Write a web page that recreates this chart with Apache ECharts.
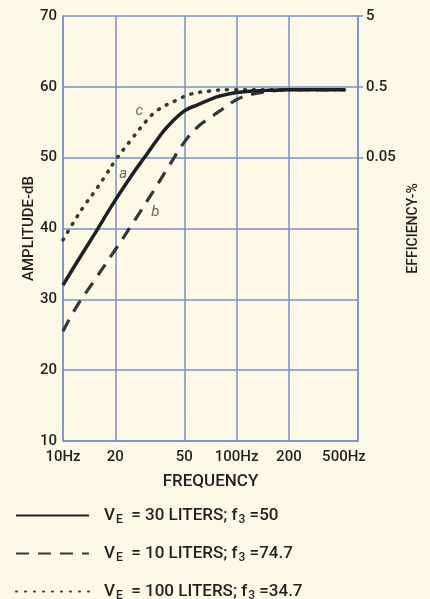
<!DOCTYPE html>
<html>
<head>
<meta charset="utf-8">
<script src="https://cdn.jsdelivr.net/npm/echarts@6/dist/echarts.min.js"></script>
<style>
  html, body { margin: 0; padding: 0; background: #fcfae6; }
  #chart { width: 430px; height: 599px; }
</style>
</head>
<body>
<div id="chart"></div>
<script>
// x 轴刻度 (Hz)
var freqTicks = [10, 20, 50, 100, 200, 500];
// 右侧效率刻度
var effTicks = [50, 60, 70];
var effLabels = ['0.05', '0.5', '5'];

// 曲线 a : VE = 30 liters
var solidFreq = [10, 12, 15, 20, 25, 30, 35, 40, 50, 60, 70, 80, 100, 150, 200, 300, 420];
var solidDb = [32, 35.2, 39, 44, 47.6, 50.3, 52.6, 54.4, 56.6, 57.5, 58.2, 58.7, 59.2, 59.5, 59.6, 59.6, 59.6];
// 曲线 b : VE = 10 liters
var dashedFreq = [10, 12, 15, 20, 25, 30, 35, 40, 50, 60, 70, 80, 100, 120, 150, 200, 420];
var dashedDb = [25.5, 29, 32.5, 37, 40.6, 43.6, 46.2, 48.5, 52.2, 54.4, 55.6, 56.6, 58.2, 58.9, 59.3, 59.6, 59.6];
// 曲线 c : VE = 100 liters
var dottedFreq = [10, 12, 13.5, 15, 17.6, 20, 25, 30, 35, 45, 55, 70, 90, 150, 420];
var dottedDb = [38.4, 41.6, 43.5, 45, 47.5, 49.6, 52.7, 55.1, 56.7, 58.1, 59, 59.4, 59.6, 59.6, 59.6];

var names = ['30 LITERS', '10 LITERS', '100 LITERS'];
var f3 = ['50', '74.7', '34.7'];

function pairs(xs, ys) {
    return xs.map(function (x, i) { return [x, ys[i]]; });
}

var font = "Roboto, 'DejaVu Sans Condensed', sans-serif";
var ink = '#1e2222';
var gridBlue = '#7b8fc6';

// 曲线旁的小字母
function curveTag(letter, f, db) {
    return {
        symbol: 'circle',
        symbolSize: 1,
        itemStyle: { color: 'transparent' },
        label: {
            show: true, position: 'inside',
            color: '#6b6258', fontStyle: 'italic', fontSize: 15, fontFamily: font,
            formatter: letter
        },
        data: [{ coord: [f, db] }]
    };
}

var myChart = echarts.init(document.getElementById('chart'));

var option = {
    backgroundColor: '#fcfae6',
    animation: false,
    grid: { left: 63, right: 72, top: 16, bottom: 158 },
    xAxis: {
        type: 'log',
        logBase: 10,
        min: 10,
        max: 500,
        name: 'FREQUENCY',
        nameLocation: 'middle',
        nameGap: 32,
        nameTextStyle: { color: ink, fontFamily: font, fontSize: 17, fontWeight: 500 },
        axisLine: { lineStyle: { color: gridBlue, width: 1.5 } },
        axisTick: { show: false, customValues: freqTicks },
        axisLabel: {
            customValues: freqTicks,
            color: ink, fontFamily: font, fontSize: 15, fontWeight: 500, margin: 9,
            formatter: function (v) {
                if (v == 500) return '{r|500Hz}';
                return (v == 10 || v == 100) ? v + 'Hz' : '' + v;
            },
            rich: {
                r: { color: ink, fontFamily: font, fontSize: 15, fontWeight: 500, padding: [0, 28, 0, 0] }
            }
        },
        splitLine: { show: true, lineStyle: { color: gridBlue, width: 1.5 } },
        minorSplitLine: { show: false }
    },
    yAxis: [{
        type: 'value',
        min: 10,
        max: 70,
        interval: 10,
        name: 'AMPLITUDE-dB',
        nameLocation: 'middle',
        nameGap: 26,
        nameMoveOverlap: false,
        nameRotate: 90,
        nameTextStyle: { color: ink, fontFamily: font, fontSize: 15, fontWeight: 500 },
        axisLine: { show: true, lineStyle: { color: gridBlue, width: 1.5 } },
        axisTick: { show: false },
        axisLabel: { color: ink, fontFamily: font, fontSize: 15, fontWeight: 500, margin: 6 },
        splitLine: { lineStyle: { color: gridBlue, width: 1.5 } }
    }, {
        type: 'value',
        position: 'right',
        min: 10,
        max: 70,
        interval: 10,
        name: 'EFFICIENCY-%',
        nameLocation: 'middle',
        nameGap: 48,
        nameRotate: 90,
        nameTextStyle: { color: ink, fontFamily: font, fontSize: 14, fontWeight: 500 },
        axisLine: { show: true, lineStyle: { color: gridBlue, width: 1.5 } },
        axisTick: { show: true, customValues: effTicks, length: 5, lineStyle: { color: gridBlue, width: 1.5 } },
        axisLabel: {
            customValues: effTicks,
            color: ink, fontFamily: font, fontSize: 15, fontWeight: 500, margin: 8,
            formatter: function (v) {
                var i = effTicks.indexOf(v);
                return i >= 0 ? effLabels[i] : '';
            }
        },
        splitLine: { show: false }
    }],
    legend: {
        orient: 'vertical',
        left: 15,
        top: 507,
        height: 130,
        padding: 0,
        itemWidth: 73,
        itemHeight: 14,
        itemGap: 19,
        itemStyle: { opacity: 0 },
        data: names,
        formatter: function (name) {
            var i = names.indexOf(name);
            return 'V{sub|E}  = ' + name + '; f{sub|3} =' + f3[i];
        },
        textStyle: {
            color: ink,
            fontFamily: font,
            fontSize: 17,
            fontWeight: 500,
            padding: [0, 0, 0, 10],
            rich: {
                sub: { fontSize: 12, fontFamily: font, fontWeight: 500, color: ink, padding: [9, 0, 0, 1] }
            }
        }
    },
    series: [{
        name: names[2],
        type: 'line',
        smooth: 0.4,
        showSymbol: false,
        symbol: 'none',
        data: pairs(dottedFreq, dottedDb),
        lineStyle: { color: '#2f3d36', width: 3.5, type: [1, 8], cap: 'round' },
        itemStyle: { color: '#2f3d36' },
        markPoint: curveTag('c', 27.5, 56.5)
    }, {
        name: names[1],
        type: 'line',
        smooth: 0.4,
        showSymbol: false,
        symbol: 'none',
        data: pairs(dashedFreq, dashedDb),
        lineStyle: { color: '#2c3a3a', width: 3.2, type: [13, 9] },
        itemStyle: { color: '#2c3a3a' },
        markPoint: curveTag('b', 34, 42.3)
    }, {
        name: names[0],
        type: 'line',
        smooth: 0.4,
        showSymbol: false,
        symbol: 'none',
        data: pairs(solidFreq, solidDb),
        lineStyle: { color: '#1b2124', width: 3.5 },
        itemStyle: { color: '#1b2124' },
        markPoint: curveTag('a', 22.2, 47.6)
    }]
};

myChart.setOption(option);

window.addEventListener('resize', function () {
    myChart.resize();
});
</script>
</body>
</html>
